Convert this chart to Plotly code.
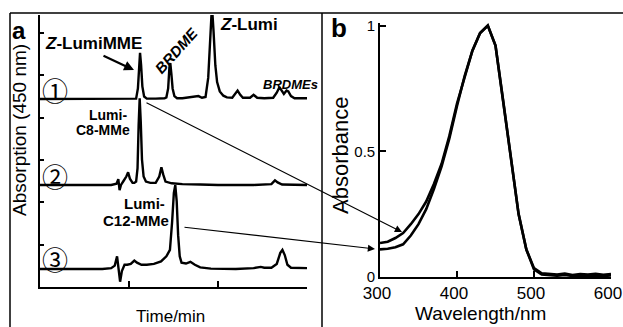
import plotly.graph_objects as go

# ---------------- data ----------------
# Panel a: HPLC chromatograms (time in min, signal above each trace's own baseline)
t1 = [0, 4.5, 5.3, 5.4, 5.5, 5.57, 5.62, 5.68, 5.75, 5.85, 6.0, 6.5, 7.0, 7.1, 7.2, 7.27, 7.32, 7.38, 7.45, 7.55, 7.7,
      8.0, 8.5, 8.9, 9.1, 9.3, 9.45, 9.58, 9.66, 9.75, 9.85, 9.95, 10.1, 10.3, 10.5, 10.8, 10.95, 11.1, 11.25, 11.4,
      11.8, 12.0, 12.2, 12.6, 13.1, 13.3, 13.45, 13.6, 13.7, 13.85, 13.95, 14.1, 14.3, 15.0]
s1 = [0, 0, 0, 0.01, 0.25, 0.85, 1.09, 0.8, 0.3, 0.06, 0.01, 0.01, 0.02, 0.04, 0.25, 0.75, 0.85, 0.6, 0.25, 0.07, 0.02,
      0.02, 0.04, 0.07, 0.03, 0.05, 0.5, 1.6, 2.2, 1.6, 0.8, 0.4, 0.18, 0.08, 0.04, 0.03, 0.12, 0.2, 0.1, 0.03,
      0.03, 0.1, 0.03, 0.02, 0.03, 0.15, 0.28, 0.18, 0.12, 0.2, 0.18, 0.07, 0.02, 0.02]

t2 = [0, 4.0, 4.3, 4.4, 4.47, 4.55, 4.7, 4.85, 4.95, 5.05, 5.2, 5.3, 5.4, 5.48, 5.54, 5.6, 5.66, 5.73, 5.82, 5.95, 6.2,
      6.5, 6.7, 6.82, 6.92, 7.05, 7.4, 8.0, 9.0, 10.0, 12.0, 13.0, 13.2, 13.35, 13.6, 15.0]
s2 = [0, 0, 0.03, 0.14, -0.12, 0.0, 0.1, 0.2, 0.3, 0.15, 0.05, 0.05, 0.08, 0.4, 1.4, 2.05, 1.5, 0.6, 0.2, 0.08, 0.05,
      0.05, 0.2, 0.42, 0.25, 0.08, 0.04, 0.02, 0.01, 0.0, 0.0, 0.02, 0.11, 0.06, 0.01, 0.0]

t3 = [0, 3.5, 4.0, 4.2, 4.33, 4.42, 4.5, 4.6, 4.75, 4.9, 5.1, 5.3, 5.45, 5.7, 6.0, 6.4, 6.8, 7.1, 7.3, 7.42, 7.52, 7.6,
      7.68, 7.76, 7.85, 7.95, 8.2, 8.45, 8.7, 9.0, 9.6, 11.0, 12.0, 12.4, 12.6, 13.0, 13.3, 13.5, 13.62, 13.75, 13.9,
      14.1, 15.0]
s3 = [0, 0, 0.02, 0.08, 0.3, 0.0, -0.3, -0.05, 0.1, 0.1, 0.12, 0.2, 0.15, 0.1, 0.1, 0.12, 0.18, 0.3, 0.45, 1.1, 1.8, 1.98,
      1.6, 0.8, 0.3, 0.15, 0.13, 0.17, 0.1, 0.04, 0.01, 0.0, 0.02, 0.05, 0.03, 0.03, 0.12, 0.38, 0.45, 0.33, 0.1,
      0.03, 0.02]

# Panel b: absorption spectra
wl = [300, 310, 320, 330, 340, 350, 360, 370, 380, 390, 400, 410, 420, 430, 440, 450, 460, 470, 480, 490, 500,
      510, 520, 530, 540, 550, 560, 570, 580, 590, 600]
abs_upper = [0.135, 0.14, 0.155, 0.175, 0.21, 0.25, 0.30, 0.37, 0.45, 0.56, 0.69, 0.80, 0.90, 0.97, 1.0, 0.92, 0.70,
             0.48, 0.25, 0.11, 0.035, 0.015, 0.012, 0.01, 0.014, 0.008, 0.012, 0.01, 0.013, 0.009, 0.012]
abs_lower = [0.11, 0.112, 0.118, 0.13, 0.165, 0.21, 0.27, 0.35, 0.44, 0.55, 0.68, 0.80, 0.90, 0.97, 1.0, 0.92, 0.70,
             0.48, 0.25, 0.11, 0.03, 0.01, 0.006, 0.005, 0.008, 0.004, 0.006, 0.005, 0.007, 0.004, 0.006]

x_ticks_a = [0, 5, 10, 15]
x_ticktext_a = ["0", "5", "10", "15"]
y_ticks_a = [0, 1, 2, 3, 4, 5, 6]
x_ticks_b = [300, 400, 500, 600]
y_ticks_b = [0, 0.5, 1]
y_ticktext_b = ["0", "0.5", "1"]

# trace baselines (vertical offsets in panel-a units)
offsets = [4.44, 2.41, 0.425]

# ---------------- layout helpers ----------------
W, H = 623, 327
def px(x):
    return x / W
def py(y):
    return 1 - y / H

Y_RANGE_A = (287 - 15) / 42.33

fig = go.Figure()
for t, s, off in zip([t1, t2, t3], [s1, s2, s3], offsets):
    fig.add_trace(go.Scatter(x=t, y=[v + off for v in s], mode="lines",
                             line=dict(color="black", width=2.4), xaxis="x", yaxis="y",
                             showlegend=False, hoverinfo="skip"))
# time-axis tick labels drawn on the panel-a data scale (just below the axis)
fig.add_trace(go.Scatter(x=x_ticks_a, y=[-11 / 42.33] * len(x_ticks_a), mode="text",
                         text=x_ticktext_a, textposition="middle center",
                         textfont=dict(size=16, color="black", family="Liberation Sans, Arial, sans-serif"),
                         cliponaxis=False, xaxis="x", yaxis="y", showlegend=False, hoverinfo="skip"))
for ys in [abs_upper, abs_lower]:
    fig.add_trace(go.Scatter(x=wl, y=ys, mode="lines", line=dict(color="black", width=2.6),
                             xaxis="x2", yaxis="y2", showlegend=False, hoverinfo="skip"))

axis_common = dict(showgrid=False, zeroline=False, showline=True, linecolor="black", linewidth=1.6,
                   ticks="inside", tickcolor="black", tickwidth=1.6, automargin=False,
                   ticklabeloverflow="allow", tickangle=0)

fig.update_layout(
    width=W, height=H, autosize=False, showlegend=False, hovermode=False,
    margin=dict(l=0, r=0, t=0, b=0),
    paper_bgcolor="white", plot_bgcolor="white",
    font=dict(family="Arial, Liberation Sans, sans-serif", color="black"),
    xaxis=dict(domain=[px(40), px(307)], range=[0, 15], anchor="y", tickmode="array",
               tickvals=x_ticks_a, showticklabels=False, ticklen=6, **axis_common),
    yaxis=dict(domain=[py(287), py(15)], range=[0, Y_RANGE_A], anchor="x", tickvals=y_ticks_a,
               ticklen=4, showticklabels=False, **axis_common),
    xaxis2=dict(domain=[px(380), px(611)], range=[300, 600], anchor="y2", tickvals=x_ticks_b,
                ticklen=6, tickfont=dict(size=17), ticklabelshift=-3, **axis_common),
    yaxis2=dict(domain=[py(277), py(23)], range=[0, (277 - 23) / 251.5], anchor="x2", tickvals=y_ticks_b,
                ticktext=y_ticktext_b, ticklen=6, tickfont=dict(size=15), **axis_common),
)

ann = []

def text(x, y, s, size, bold=False, angle=0, xanchor="center", family=None):
    d = dict(x=px(x), y=py(y), xref="paper", yref="paper", text=(f"<b>{s}</b>" if bold else s),
             showarrow=False, xanchor=xanchor, yanchor="middle", textangle=angle,
             font=dict(size=size, color="black"))
    if family:
        d["font"]["family"] = family
    ann.append(d)

text(19, 30, "a", 24, bold=True)
text(339, 28, "b", 26, bold=True)
text(19, 130, "Absorption (450 nm)", 19, angle=-90)
text(170, 316, "Time/min", 17)
text(480, 313, "Wavelength/nm", 19)
text(340, 156, "Absorbance", 22, angle=-90)

text(93, 43, "<i>Z</i>-LumiMME", 17, bold=True)
text(249, 24, "<i>Z</i>-Lumi", 17, bold=True)
text(176, 50, "<i>BRDME</i>", 15, bold=True, angle=-48)
text(290, 84, "<i>BRDMEs</i>", 13, bold=True)
text(129, 115, "Lumi-", 14, bold=True, xanchor="right")
text(132, 130, "C8-MMe", 14, bold=True, xanchor="right")
text(167, 203, "Lumi-", 15, bold=True, xanchor="right")
text(171, 220, "C12-MMe", 15, bold=True, xanchor="right")

circ_font = "Noto Sans CJK JP"
text(55, 89, "①", 26, family=circ_font)
text(55, 175, "②", 26, family=circ_font)
text(55, 258, "③", 26, family=circ_font)

def arrow(x0, y0, x1, y1, width=1.2, size=1.0):
    # head at (x1, y1); tail given as pixel offset from head
    ann.append(dict(x=px(x1), y=py(y1), xref="paper", yref="paper",
                    ax=x0 - x1, ay=y0 - y1, axref="pixel", ayref="pixel", text="", showarrow=True,
                    arrowhead=2, arrowsize=size, arrowwidth=width, arrowcolor="black",
                    standoff=0, startstandoff=0))

arrow(102, 55, 134, 70, width=2.2, size=0.9)
arrow(145, 102, 402, 232, width=1.1, size=1.3)
arrow(183, 227, 375, 249, width=1.1, size=1.3)

fig.update_layout(annotations=ann)

# frame lines
shapes = [
    dict(type="line", xref="paper", yref="paper", x0=px(10), x1=1, y0=py(13), y1=py(13),
         line=dict(color="black", width=1.5)),
    dict(type="line", xref="paper", yref="paper", x0=px(10), x1=px(10), y0=py(13), y1=0,
         line=dict(color="black", width=1.5)),
    dict(type="line", xref="paper", yref="paper", x0=px(322), x1=px(322), y0=py(13), y1=0,
         line=dict(color="black", width=1.5)),
]
fig.update_layout(shapes=shapes)

fig.write_html("out.html")
